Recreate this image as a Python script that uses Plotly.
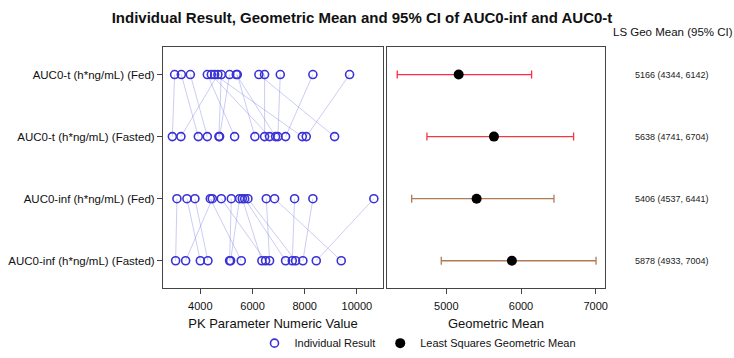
import plotly.graph_objects as go

# ---- data ----
row_labels = ["AUC0-t (h*ng/mL) (Fed)", "AUC0-t (h*ng/mL) (Fasted)",
              "AUC0-inf (h*ng/mL) (Fed)", "AUC0-inf (h*ng/mL) (Fasted)"]

# per-subject values (same index = same subject)
auct_fed = [3016, 3272, 3617, 4268, 4421, 4548, 4674, 4804, 5122, 5379, 5417, 6244, 6463, 7064, 8313, 9719]
auct_fasted = [2928, 3923, 4268, 5314, 6654, 7907, 3257, 4712, 4739, 6884, 6091, 9145, 6463, 6972, 7267, 8060]
aucinf_fed = [3104, 3487, 3793, 4383, 4460, 4804, 5187, 5505, 5609, 5700, 5823, 6528, 6846, 7612, 8313, 10649]
aucinf_fasted = [3054, 4000, 4291, 5570, 3437, 6501, 5122, 5160, 6359, 7267, 7650, 6654, 9400, 7524, 7930, 8443]

ls_mean = [5166, 5638, 5406, 5878]
ci_lower = [4344, 4741, 4537, 4933]
ci_upper = [6142, 6704, 6441, 7004]
ci_colors = ["#ff2a45", "#ee3a40", "#b07a55", "#b07a55"]

x1_ticks = [4000, 6000, 8000, 10000]
x1_ticktext = ["4000", "6000", "8000", "10000"]
x2_ticks = [5000, 6000, 7000]

FONT = "Arial, Liberation Sans, sans-serif"
BLUE = "#3a32d6"
LINE_C = "rgba(110,110,225,0.35)"

fig = go.Figure()

# connecting lines between Fed and Fasted per subject
pairs = [(auct_fed, auct_fasted, 0, 1), (aucinf_fed, aucinf_fasted, 2, 3)]
for fed, fas, r1, r2 in pairs:
    xs, ys = [], []
    for a, b in zip(fed, fas):
        xs += [a, b, None]
        ys += [r1, r2, None]
    fig.add_trace(go.Scatter(x=xs, y=ys, mode="lines", line=dict(color=LINE_C, width=1),
                             showlegend=False, hoverinfo="skip", xaxis="x", yaxis="y"))

# individual points
series = [auct_fed, auct_fasted, aucinf_fed, aucinf_fasted]
for i, vals in enumerate(series):
    fig.add_trace(go.Scatter(
        x=vals, y=[i] * len(vals), mode="markers",
        marker=dict(symbol="circle-open", size=8, color=BLUE, line=dict(width=1.6, color=BLUE)),
        name="Individual Result", showlegend=(i == 0), xaxis="x", yaxis="y"))

# CI bars
for i in range(4):
    fig.add_trace(go.Scatter(
        x=[ls_mean[i]], y=[i], mode="markers", marker=dict(size=1, opacity=0),
        error_x=dict(type="data", symmetric=False,
                     array=[ci_upper[i] - ls_mean[i]], arrayminus=[ls_mean[i] - ci_lower[i]],
                     color=ci_colors[i], thickness=1.3, width=4),
        showlegend=False, hoverinfo="skip", xaxis="x2", yaxis="y2"))

fig.add_trace(go.Scatter(
    x=ls_mean, y=list(range(4)), mode="markers",
    marker=dict(symbol="circle", size=10, color="black"),
    name="Least Squares Geometric Mean", xaxis="x2", yaxis="y2"))

# right-hand text
for i in range(4):
    fig.add_annotation(x=672 / 734, xref="paper", xanchor="center", y=i, yref="y2",
                       yanchor="middle",
                       text=f"{ls_mean[i]} ({ci_lower[i]}, {ci_upper[i]})",
                       showarrow=False, font=dict(size=9, color="#222", family=FONT))
fig.add_annotation(x=673 / 734, xref="paper", xanchor="center", y=1 - 33 / 358, yref="paper",
                   yanchor="middle",
                   text="LS Geo Mean (95% CI)", showarrow=False,
                   font=dict(size=11.5, color="#111", family=FONT))

yr = [3.443, -0.443]
axis_common = dict(showline=True, mirror=True, linecolor="#444", linewidth=1,
                   showgrid=False, zeroline=False, ticks="outside", ticklen=5,
                   tickcolor="#444", tickfont=dict(size=11, color="#111", family=FONT),
                   automargin=False)

fig.update_layout(
    width=734, height=358, autosize=False,
    margin=dict(l=0, r=0, t=0, b=0, pad=0),
    paper_bgcolor="white", plot_bgcolor="white",
    font=dict(family=FONT, color="#111"),
    title=dict(text="<b>Individual Result, Geometric Mean and 95% CI of AUC0-inf and AUC0-t</b>",
               x=362 / 734, xanchor="center", y=1 - 18 / 358, yanchor="middle",
               font=dict(size=15, color="#111", family=FONT)),
    xaxis=dict(domain=[163 / 734, 383 / 734], range=[2570, 11000], tickvals=x1_ticks,
               ticktext=x1_ticktext, ticklabelstandoff=3,
               title=dict(text="PK Parameter Numeric Value", font=dict(size=13, family=FONT), standoff=7),
               anchor="y", **axis_common),
    yaxis=dict(domain=[1 - 294 / 358, 1 - 48 / 358], range=yr, tickvals=list(range(4)),
               ticktext=row_labels, anchor="x",
               **{**axis_common, "tickfont": dict(size=11.5, color="#111", family=FONT)}),
    xaxis2=dict(domain=[387 / 734, 605 / 734], range=[4207, 7124], tickvals=x2_ticks,
                ticklabelstandoff=3,
                title=dict(text="Geometric Mean", font=dict(size=13, family=FONT), standoff=7),
                anchor="y2", **axis_common),
    yaxis2=dict(domain=[1 - 294 / 358, 1 - 48 / 358], range=yr, anchor="x2",
                showline=True, mirror=True, linecolor="#444", linewidth=1,
                showgrid=False, zeroline=False, showticklabels=False, ticks=""),
    legend=dict(orientation="h", x=418 / 734, xanchor="center", y=1 - 350 / 358, yanchor="middle",
                font=dict(size=11, family=FONT, color="#111"), bgcolor="rgba(0,0,0,0)",
                itemwidth=30, tracegroupgap=0),
)

fig.write_html("out.html", config={"displayModeBar": False, "responsive": False},
               post_script="document.body.style.margin='0';document.body.style.overflow='hidden';")
